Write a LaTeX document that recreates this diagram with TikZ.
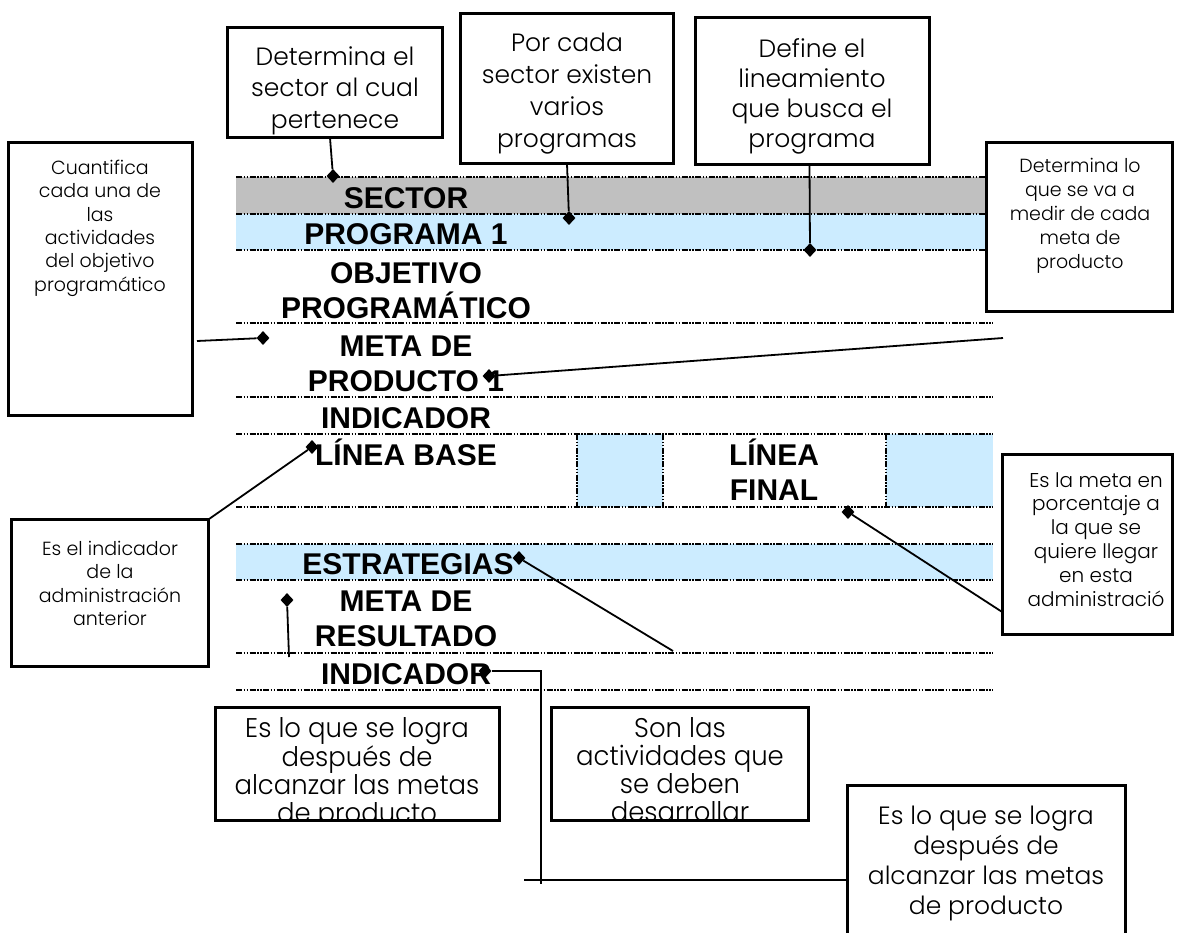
\documentclass[tikz,border=0pt]{standalone}
\usepackage{fontspec}
\setmainfont{Liberation Sans}
\newfontfamily\gothic{Poppins Light}
\newfontfamily\gothicn{Poppins Light}[FakeStretch=0.96]
\usetikzlibrary{shapes.geometric,fit,calc}
\definecolor{rowgray}{RGB}{192,192,192}
\definecolor{rowblue}{RGB}{204,236,255}
\tikzset{
 rowline/.style={line width=1.3pt, dash pattern=on 6pt off 1.5pt on 1.5pt off 1.5pt on 1.5pt off 1.5pt},
 lab/.style={anchor=base, inner sep=0pt, font=\fontsize{30}{35}\selectfont\bfseries},
 cbox/.style={draw, line width=1.6pt, fill=white, inner sep=0pt},
 ctext/.style={anchor=north, align=center, inner sep=0pt},
 conn/.style={line width=1.8pt},
 dia/.style={diamond, fill=black, draw=none, inner sep=0pt, minimum width=13pt, minimum height=14pt},
}
% #1 name, #2 corner, #3 corner, #4 font, #5 text anchor point, #6 text
\newcommand\callout[6]{%
 \node[cbox, fit={(#2) (#3)}] (#1) {};
 \begin{scope}
  \clip (#1.south west) rectangle (#1.north east);
  \node[ctext, font=#4] (#1-t) at (#5) {#6};
 \end{scope}
 \draw[line width=1.6pt] (#1.south west) rectangle (#1.north east);
}
\begin{document}
\begin{tikzpicture}[x=1pt,y=-1pt]
\useasboundingbox (0,0) rectangle (1177,932);
% ---- table fills
\fill[rowgray] (236,177) rectangle (993,214);
\fill[rowblue] (236,214) rectangle (993,250);
\fill[rowblue] (577,434) rectangle (663,507);
\fill[rowblue] (886,434) rectangle (993,507);
\fill[rowblue] (236,544) rectangle (993,580);
% ---- table lines
\foreach \yy in {177,214,250,323,397,434,507,544,580,653,690}
  \draw[rowline] (236,\yy) -- (993,\yy);
\foreach \xx in {577,663,886}
  \draw[rowline] (\xx,434) -- (\xx,507);
% ---- labels
\node[lab] (lsec) at (406,208) {SECTOR};
\node[lab] (lprog) at (406,244) {PROGRAMA 1};
\node[lab] (lobja) at (406,283) {OBJETIVO};
\node[lab] (lobjb) at (406,318) {PROGRAMÁTICO};
\node[lab] (lmpa) at (406,356) {META DE};
\node[lab] (lmpb) at (406,391) {PRODUCTO 1};
\node[lab] (lind) at (406,428) {INDICADOR};
\node[lab] (llb) at (406,465) {LÍNEA BASE};
\node[lab] (llfa) at (774,465) {LÍNEA};
\node[lab] (llfb) at (774,500) {FINAL};
\node[lab] (lest) at (408,574) {ESTRATEGIAS};
\node[lab] (lmra) at (406,611) {META DE};
\node[lab] (lmrb) at (406,646) {RESULTADO};
\node[lab] (lind2) at (406,684) {INDICADOR};
% ---- callouts
\callout{A}{228,28}{442,137}{\gothic\fontsize{25}{31.5}\selectfont}{335,46}{Determina el\\sector al cual\\pertenece}
\callout{B}{461,14}{673,163}{\gothic\fontsize{25}{32}\selectfont}{567,33}{Por cada\\sector existen\\varios\\programas}
\callout{C}{696,18}{929,164}{\gothic\fontsize{25}{30}\selectfont}{812,38}{Define el\\lineamiento\\que busca el\\programa}
\callout{D}{987,143}{1172,311}{\gothic\fontsize{19}{24}\selectfont}{1080,158}{Determina lo\\que se va a\\medir de cada\\meta de\\producto}
\callout{E}{9,143}{192,415}{\gothic\fontsize{19}{23.3}\selectfont}{100,160}{Cuantifica\\cada una de\\las\\actividades\\del objetivo\\programático}
\callout{F}{12,520}{208,666}{\gothic\fontsize{19}{23.3}\selectfont}{110,541}{Es el indicador\\de la\\administración\\anterior}
\callout{G}{1003,455}{1172,634}{\gothic\fontsize{20}{23.8}\selectfont}{1096,472}{Es la meta en\\porcentaje a\\la que se\\quiere llegar\\en esta\\administració}
\callout{H}{216,708}{499,820}{\gothicn\fontsize{27}{28}\selectfont}{357,717}{Es lo que se logra\\después de\\alcanzar las metas\\de producto}
\callout{I}{552,708}{808,820}{\gothicn\fontsize{27}{28}\selectfont}{680,717}{Son las\\actividades que\\se deben\\desarrollar}
\callout{J}{848,786}{1125,974}{\gothic\fontsize{25}{30}\selectfont}{986,806}{Es lo que se logra\\después de\\alcanzar las metas\\de producto}
% ---- diamonds
\node[dia] (d1) at (333,176) {};
\node[dia] (d2) at (569,218) {};
\node[dia] (d3) at (810,250) {};
\node[dia] (d4) at (489,376) {};
\node[dia] (d5) at (263,338) {};
\node[dia] (d6) at (312,447) {};
\node[dia] (d7) at (848,512) {};
\node[dia] (d8) at (519,558) {};
\node[dia] (d9) at (287,600) {};
\node[dia] (d10) at (485,671) {};
% ---- free ends
\coordinate (eD) at (1003,338);
\coordinate (eE) at (197,341);
\coordinate (e8) at (673,651);
\coordinate (e9) at (289,657);
\coordinate (e10) at (541,884);
\coordinate (eJ) at (524,880);
% ---- connectors
\draw[conn] ([xshift=-5pt]A.south) -- (d1);
\draw[conn] ([xshift=0pt]B.south) -- (d2);
\draw[conn] ([xshift=-3pt]C.south) -- (d3);
\draw[conn] (eD) -- (d4);
\draw[conn] (eE) -- (d5);
\draw[conn] (F.north east) -- (d6);
\draw[conn] ([yshift=-67.5pt]G.west) -- (d7);
\draw[conn] (d8) -- (e8);
\draw[conn] (d9) -- (e9);
\draw[conn] (d10) -- (d10 -| e10) -- (e10);
\draw[conn] (J.west) -- (eJ);
\end{tikzpicture}
\end{document}
